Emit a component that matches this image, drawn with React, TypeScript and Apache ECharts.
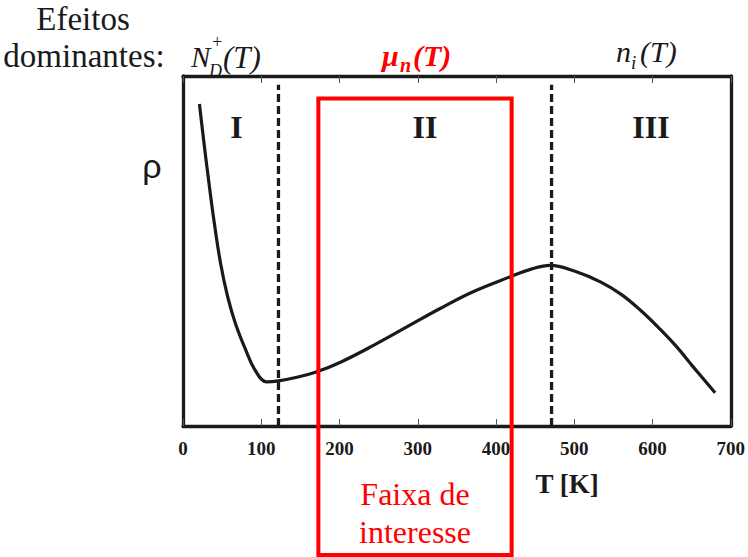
import React, { useEffect, useRef } from "react";
import * as echarts from "echarts";

// Resistivity vs. temperature for a doped semiconductor
const temperatureK = [21, 27, 34, 40, 48, 57, 67, 80, 92, 107, 122, 147, 171, 202, 244, 286, 328, 370, 419, 446, 469, 501, 534, 560, 585, 610, 631, 652, 680];
const resistivity = [92, 80.5, 68, 58, 46.5, 37, 29.3, 21.8, 16, 12.6, 12.9, 14, 15.5, 18.3, 23.1, 28.3, 33.5, 38.3, 42.7, 44.9, 45.9, 44.2, 41.1, 37.6, 33, 27.6, 22.6, 16.9, 9.5];

// Region boundaries (K) and the range of interest (K)
const regionBoundaries = [122, 471];
const rangeOfInterest = [173, 420];
const regionNames = ["I", "II", "III"];

const xTicks = [0, 100, 200, 300, 400, 500, 600, 700];

const SERIF = "Liberation Serif";
const INK = "#1a1a1a";
const RED = "#ff0000";

export default function App() {
  const ref = useRef<HTMLDivElement>(null);

  useEffect(() => {
    if (!ref.current) return;
    const chart = echarts.init(ref.current, null, { renderer: "svg" });

    const frameLine = { show: true, onZero: false, lineStyle: { color: INK, width: 3.3 } };
    const innerTick = {
      show: true,
      inside: true,
      length: 7,
      lineStyle: { color: "#555", width: 1 },
    };

    const xBase = {
      type: "value",
      min: xTicks[0],
      max: xTicks[xTicks.length - 1],
      interval: 100,
      axisLine: frameLine,
      axisTick: innerTick,
      splitLine: { show: false },
    };
    const yBase = {
      type: "value",
      min: 0,
      max: 100,
      axisLine: frameLine,
      axisTick: { show: false },
      axisLabel: { show: false },
      splitLine: { show: false },
    };

    chart.setOption({
      animation: false,
      backgroundColor: "#fff",
      grid: { left: 183, right: 11, top: 76, bottom: 131 },
      xAxis: [
        {
          ...xBase,
          position: "bottom",
          axisLabel: {
            margin: 13,
            fontFamily: SERIF,
            fontWeight: "bold",
            fontSize: 19,
            color: INK,
          },
        },
        { ...xBase, position: "top", axisLabel: { show: false } },
      ],
      yAxis: [
        { ...yBase, position: "left" },
        { ...yBase, position: "right" },
      ],
      series: [
        {
          type: "line",
          data: temperatureK.map((t, i) => [t, resistivity[i]]),
          smooth: 0.4,
          symbol: "none",
          lineStyle: { color: INK, width: 3.2 },
          z: 3,
        },
        ...regionBoundaries.map((t) => ({
          type: "line",
          data: [
            [t, 0],
            [t, 97.5],
          ],
          symbol: "none",
          lineStyle: { color: INK, width: 3.3, type: [8, 4] },
          z: 2,
        })),
      ],
    });

    const x0 = chart.convertToPixel({ xAxisIndex: 0 }, rangeOfInterest[0]) as number;
    const x1 = chart.convertToPixel({ xAxisIndex: 0 }, rangeOfInterest[1]) as number;
    const boxTop = 98.5;
    const boxBottom = 555;
    const mid = (x0 + x1) / 2;

    const txt = (
      text: string,
      x: number,
      y: number,
      size: number,
      extra: Record<string, unknown> = {}
    ) => ({
      type: "text",
      x,
      y,
      z: 110,
      style: {
        text,
        fontFamily: SERIF,
        fontSize: size,
        fill: INK,
        align: "left",
        verticalAlign: "middle",
        ...extra,
      },
    });

    const regionX = [236.5, 425, 651];
    const it = { fontStyle: "italic" };
    const redIt = { fontStyle: "italic", fontWeight: "bold", fill: RED };

    chart.setOption({
      graphic: [
        {
          type: "rect",
          z: 100,
          shape: { x: x0, y: boxTop, width: x1 - x0, height: boxBottom - boxTop },
          style: { fill: "none", stroke: RED, lineWidth: 4 },
        },
        txt("Faixa de", mid, 494, 32, { fill: RED, align: "center" }),
        txt("interesse", mid, 532, 32, { fill: RED, align: "center" }),
        txt("T [K]", 567, 484, 27, { fontWeight: "bold", align: "center" }),
        txt("ρ", 152, 166, 34, { fontFamily: "Liberation Sans", align: "center" }),
        ...regionNames.map((r, i) =>
          txt(r, regionX[i], 127, 32, { fontWeight: "bold", align: "center" })
        ),
        txt("Efeitos", 83, 19, 33, { align: "center" }),
        txt("dominantes:", 84, 56, 33, { align: "center" }),
        // N_D^+(T)
        txt("N", 191, 57, 29, it),
        txt("+", 211, 42, 18, it),
        txt("D", 209, 71, 18, it),
        txt("(T)", 223, 57, 31, it),
        // mu_n(T)
        txt("μ", 382, 55, 30, redIt),
        txt("n", 400, 65, 20, redIt),
        txt("(T)", 413, 55, 30, redIt),
        // n_i(T)
        txt("n", 616, 51, 30, it),
        txt("i", 631, 62, 19, it),
        txt("(T)", 640, 51, 30, it),
      ],
    });

    return () => chart.dispose();
  }, []);

  return (
    <div
      ref={ref}
      style={{ position: "fixed", left: 0, top: 0, width: 748, height: 557 }}
    />
  );
}
